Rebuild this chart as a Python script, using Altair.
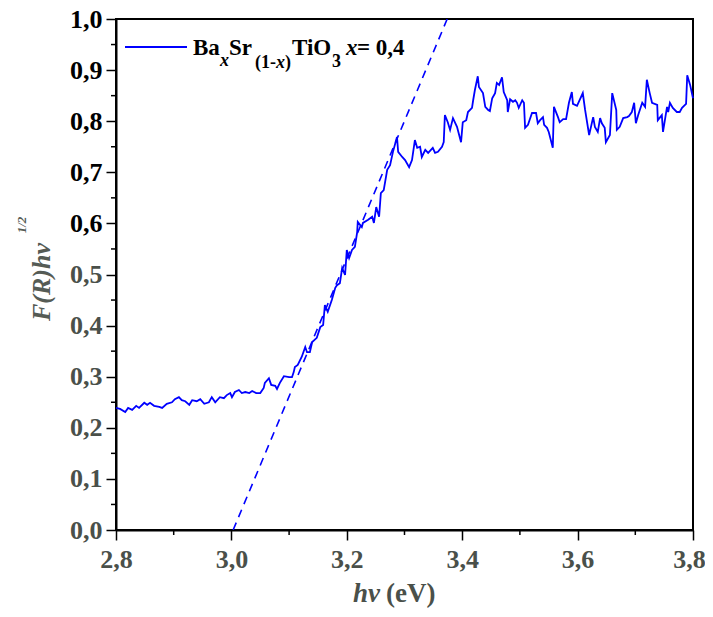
import altair as alt
import pandas as pd

# ---- data ----
hv = [
    2.800, 2.807, 2.816, 2.821, 2.828, 2.835, 2.840, 2.849, 2.854, 2.859,
    2.866, 2.875, 2.880, 2.888, 2.897, 2.902, 2.909, 2.914, 2.920, 2.927,
    2.932, 2.940, 2.946, 2.953, 2.961, 2.966, 2.972, 2.980, 2.987, 2.992,
    2.998, 3.001, 3.006, 3.013, 3.018, 3.024, 3.031, 3.036, 3.043, 3.050,
    3.056, 3.058, 3.065, 3.069, 3.076, 3.079, 3.084, 3.091, 3.100, 3.105,
    3.108, 3.110, 3.115, 3.122, 3.128, 3.131, 3.136, 3.140, 3.148, 3.154,
    3.159, 3.162, 3.167, 3.174, 3.180, 3.183, 3.188, 3.192, 3.197, 3.200,
    3.204, 3.209, 3.214, 3.218, 3.219, 3.226, 3.228, 3.237, 3.244, 3.247,
    3.251, 3.256, 3.259, 3.264, 3.270, 3.275, 3.280, 3.287, 3.289, 3.296,
    3.301, 3.308, 3.313, 3.318, 3.322, 3.327, 3.330, 3.336, 3.341, 3.349,
    3.353, 3.358, 3.365, 3.368, 3.370, 3.375, 3.379, 3.384, 3.391, 3.398,
    3.401, 3.407, 3.410, 3.417, 3.419, 3.422, 3.427, 3.429, 3.436, 3.440,
    3.445, 3.448, 3.452, 3.457, 3.460, 3.464, 3.469, 3.472, 3.478, 3.479,
    3.483, 3.488, 3.492, 3.495, 3.498, 3.504, 3.507, 3.509, 3.514, 3.521,
    3.528, 3.531, 3.535, 3.540, 3.542, 3.547, 3.550, 3.557, 3.559, 3.566,
    3.569, 3.575, 3.580, 3.585, 3.590, 3.592, 3.599, 3.609, 3.613, 3.620,
    3.627, 3.630, 3.635, 3.639, 3.642, 3.647, 3.649, 3.656, 3.660, 3.667,
    3.668, 3.673, 3.679, 3.686, 3.689, 3.694, 3.698, 3.701, 3.705, 3.712,
    3.717, 3.720, 3.725, 3.729, 3.738, 3.739, 3.746, 3.748, 3.755, 3.757,
    3.760, 3.765, 3.772, 3.777, 3.781, 3.788, 3.790, 3.795, 3.800,
]
F = [
    0.239, 0.237, 0.231, 0.239, 0.235, 0.243, 0.239, 0.249, 0.245, 0.249,
    0.243, 0.241, 0.239, 0.247, 0.250, 0.256, 0.260, 0.254, 0.252, 0.245,
    0.254, 0.252, 0.256, 0.247, 0.250, 0.260, 0.250, 0.260, 0.258, 0.264,
    0.268, 0.260, 0.270, 0.274, 0.268, 0.270, 0.268, 0.272, 0.268, 0.268,
    0.278, 0.288, 0.297, 0.284, 0.282, 0.276, 0.288, 0.301, 0.299, 0.299,
    0.309, 0.319, 0.323, 0.339, 0.358, 0.348, 0.348, 0.368, 0.376, 0.397,
    0.401, 0.440, 0.427, 0.450, 0.474, 0.479, 0.483, 0.513, 0.499, 0.548,
    0.532, 0.548, 0.554, 0.583, 0.603, 0.593, 0.601, 0.607, 0.613, 0.601,
    0.632, 0.613, 0.659, 0.665, 0.705, 0.714, 0.740, 0.769, 0.740, 0.730,
    0.724, 0.710, 0.724, 0.763, 0.748, 0.750, 0.730, 0.744, 0.738, 0.748,
    0.738, 0.740, 0.750, 0.759, 0.812, 0.798, 0.783, 0.806, 0.789, 0.759,
    0.798, 0.802, 0.818, 0.826, 0.841, 0.861, 0.888, 0.867, 0.855, 0.828,
    0.822, 0.820, 0.845, 0.855, 0.875, 0.871, 0.886, 0.857, 0.841, 0.818,
    0.843, 0.838, 0.841, 0.836, 0.826, 0.841, 0.836, 0.787, 0.793, 0.816,
    0.816, 0.796, 0.802, 0.808, 0.793, 0.787, 0.779, 0.748, 0.828, 0.808,
    0.798, 0.804, 0.804, 0.836, 0.857, 0.834, 0.830, 0.855, 0.822, 0.773,
    0.808, 0.789, 0.779, 0.806, 0.796, 0.787, 0.759, 0.773, 0.855, 0.822,
    0.783, 0.789, 0.806, 0.808, 0.810, 0.818, 0.836, 0.796, 0.812, 0.836,
    0.828, 0.881, 0.855, 0.836, 0.832, 0.802, 0.812, 0.779, 0.828, 0.818,
    0.836, 0.826, 0.818, 0.818, 0.826, 0.834, 0.890, 0.871, 0.845,
]
fit_hv = [3.003, 3.374]
fit_F = [0.0, 1.0]

x_major = [2.8, 3.0, 3.2, 3.4, 3.6, 3.8]
x_minor = [2.9, 3.1, 3.3, 3.5, 3.7]
y_major = [0.0, 0.1, 0.2, 0.3, 0.4, 0.5, 0.6, 0.7, 0.8, 0.9, 1.0]
y_minor = [0.05, 0.15, 0.25, 0.35, 0.45, 0.55, 0.65, 0.75, 0.85, 0.95]

# ---- styling ----
W, H = 577, 511
FONT = "Liberation Serif, Times New Roman, serif"
BLUE = "#0000FF"
GREY = "#4a504a"

df = pd.DataFrame({"hv": hv, "F": F})
fit_df = pd.DataFrame({"hv": fit_hv, "F": fit_F})
dummy = pd.DataFrame({"d": [0]})

xs = alt.Scale(domain=[2.8, 3.8], nice=False, zero=False)
ys = alt.Scale(domain=[0, 1], nice=False)
label_expr = "replace(format(datum.value, '.1f'), '.', ',')"

xaxis = alt.Axis(values=x_major, labelExpr=label_expr, title=None, grid=False,
                 tickSize=10, tickWidth=1.5, tickColor="black",
                 domainColor="black", domainWidth=2,
                 labelFont=FONT, labelFontWeight="bold", labelFontSize=26,
                 labelColor=GREY, labelPadding=6, labelFlush=False,
                 labelOverlap=False,
                 labelOffset={"condition": {"test": "datum.value > 3.75", "value": -4},
                              "value": 0})
yaxis = alt.Axis(values=y_major, labelExpr=label_expr, title=None, grid=False,
                 tickSize=10, tickWidth=1.5, tickColor="black",
                 domainColor="black", domainWidth=2,
                 labelFont=FONT, labelFontWeight="bold", labelFontSize=26,
                 labelColor={"condition": {"test": "datum.value >= 0.55", "value": "black"},
                             "value": GREY},
                 labelPadding=4, labelFlush=False, labelOverlap=False)

X = alt.X("hv:Q", scale=xs, axis=xaxis)
Y = alt.Y("F:Q", scale=ys, axis=yaxis)

line = alt.Chart(df).mark_line(color=BLUE, strokeWidth=1.8).encode(x=X, y=Y)
fit = alt.Chart(fit_df).mark_line(color=BLUE, strokeWidth=1.6,
                                  strokeDash=[8, 6], clip=True).encode(x=X, y=Y)

minor_x = alt.Chart(pd.DataFrame({"hv": x_minor})).mark_rule(
    color="black", strokeWidth=1.5).encode(x=X, y=alt.value(H), y2=alt.value(H + 5))
minor_y = alt.Chart(pd.DataFrame({"F": y_minor})).mark_rule(
    color="black", strokeWidth=1.5).encode(y=Y, x=alt.value(0), x2=alt.value(-5))


def txt(s, x, y, size, italic=False, color="black", angle=0, align="left"):
    return alt.Chart(dummy).mark_text(
        text=s, font=FONT, fontSize=size, fontWeight="bold",
        fontStyle="italic" if italic else "normal", color=color,
        align=align, baseline="alphabetic", angle=angle,
    ).encode(x=alt.value(x), y=alt.value(y))


legend_line = alt.Chart(dummy).mark_rule(color=BLUE, strokeWidth=1.8).encode(
    x=alt.value(9), x2=alt.value(71), y=alt.value(28))

legend = [
    legend_line,
    txt("Ba", 77, 36, 23),
    txt("x", 104, 47, 18, italic=True),
    txt("Sr", 113, 36, 23),
    txt("(1-", 139, 49, 18),
    txt("x", 160, 49, 18, italic=True),
    txt(")", 169, 49, 18),
    txt("TiO", 176, 36, 23),
    txt("3", 216, 48, 18),
    txt("x", 230, 36, 23, italic=True),
    txt("= 0,4", 241, 36, 23),
]

titles = [
    txt("hv", 237, 583, 27, italic=True, color=GREY),
    txt("(eV)", 270, 583, 27, color=GREY),
    txt("F(R)hv", -66, 263, 26, italic=True, color="#555b55", angle=270, align="center"),
    txt("1/2", -90, 206, 13, italic=True, color="#555b55", angle=270, align="center"),
]

chart = alt.layer(line, fit, minor_x, minor_y, *legend, *titles).properties(
    width=W, height=H,
    autosize=alt.AutoSizeParams(type="none"),
    padding={"left": 108, "top": 11, "right": 12, "bottom": 78},
).configure_view(stroke="black", strokeWidth=2)

chart.save("out.html", embed_options={"renderer": "svg", "actions": False})
